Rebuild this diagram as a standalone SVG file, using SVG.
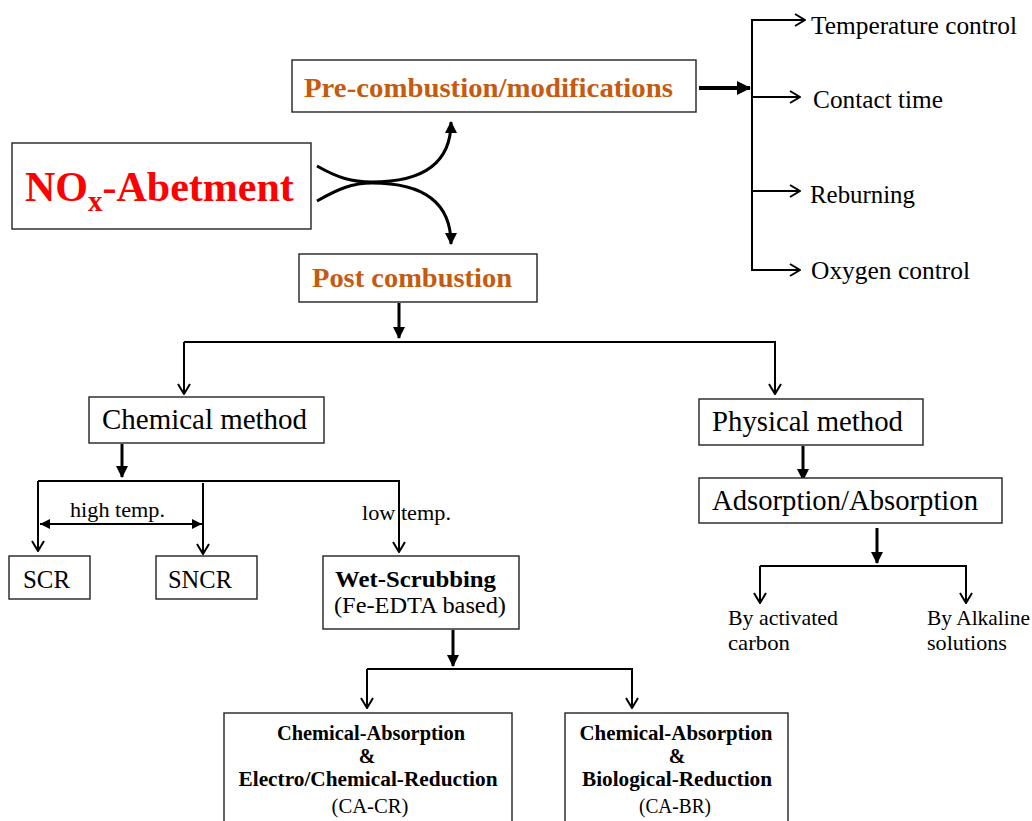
<svg xmlns="http://www.w3.org/2000/svg" width="1032" height="821" viewBox="0 0 1032 821">
<style>
text{font-family:"Liberation Serif","Times New Roman",serif;fill:#000}
.box{fill:#fff;stroke:#222;stroke-width:1.4}
.ln{fill:none;stroke:#000;stroke-width:2}
.thk{fill:none;stroke:#000;stroke-width:3}
.or{fill:#C55A11;font-weight:bold;font-size:28px}
.b{font-weight:bold}
</style>
<defs>
<marker id="open" viewBox="0 0 12 14" markerUnits="userSpaceOnUse" markerWidth="12" markerHeight="14" refX="11" refY="7" orient="auto"><path d="M1,1 L11,7 L1,13" fill="none" stroke="#000" stroke-width="2"/></marker>
<marker id="fill" viewBox="0 0 12 12" markerUnits="userSpaceOnUse" markerWidth="12" markerHeight="12" refX="11" refY="6" orient="auto"><path d="M0,0 L12,6 L0,12 z" fill="#000"/></marker>
<marker id="fillB" viewBox="0 0 14 14" markerUnits="userSpaceOnUse" markerWidth="14" markerHeight="14" refX="13" refY="7" orient="auto"><path d="M0,0 L14,7 L0,14 z" fill="#000"/></marker>
<marker id="small" viewBox="0 0 10 10" markerUnits="userSpaceOnUse" markerWidth="10" markerHeight="10" refX="10" refY="5" orient="auto-start-reverse"><path d="M0,0 L10,5 L0,10 z" fill="#000"/></marker>
</defs>

<g id="connectors">
<path class="thk" d="M317,166 C338,178 352,182 372,182 C420,182 451,165 451,122" marker-end="url(#fill)"/>
<path class="thk" d="M317,201 C338,189 352,183 372,183 C420,183 451,200 451,244" marker-end="url(#fill)"/>
<path d="M699,88 L750,88" fill="none" stroke="#000" stroke-width="4" marker-end="url(#fillB)"/>
<path class="ln" d="M752,20 L752,271"/>
<path class="ln" d="M751,20 L805,20" marker-end="url(#open)"/>
<path class="ln" d="M751,97 L800,97" marker-end="url(#open)"/>
<path class="ln" d="M751,191 L800,191" marker-end="url(#open)"/>
<path class="ln" d="M751,270 L800,270" marker-end="url(#open)"/>
<path class="thk" d="M399,303 L399,338" marker-end="url(#fill)"/>
<path class="ln" d="M184,342 L775,342 L775,394" marker-end="url(#open)"/>
<path class="ln" d="M184,342 L184,394" marker-end="url(#open)"/>
<path class="thk" d="M122,444 L122,477" marker-end="url(#fill)"/>
<path class="ln" d="M38,481 L399,481 L399,552" marker-end="url(#open)"/>
<path class="ln" d="M38,481 L38,551" marker-end="url(#open)"/>
<path class="ln" d="M203,483 L203,554" marker-end="url(#open)"/>
<path d="M40,524 L202,524" fill="none" stroke="#000" stroke-width="2" marker-start="url(#small)" marker-end="url(#small)"/>
<path class="thk" d="M453,630 L453,666" marker-end="url(#fill)"/>
<path class="ln" d="M367,669 L632,669 L632,708" marker-end="url(#open)"/>
<path class="ln" d="M367,669 L367,708" marker-end="url(#open)"/>
<path class="thk" d="M803,446 L803,480" marker-end="url(#fill)"/>
<path class="thk" d="M877,528 L877,563" marker-end="url(#fill)"/>
<path class="ln" d="M760,566 L966,566 L966,603" marker-end="url(#open)"/>
<path class="ln" d="M760,566 L760,603" marker-end="url(#open)"/>
</g>

<g id="nox">
<rect class="box" x="12" y="143" width="299" height="86"/>
<text x="25" y="201" font-size="42" font-weight="bold" fill="#FF0000" style="fill:#FF0000">NO<tspan font-size="29" dy="10">x</tspan><tspan dy="-10">-Abetment</tspan></text>
</g>

<g id="pre">
<rect class="box" x="292" y="60" width="404" height="52"/>
<text class="or" x="304" y="97" textLength="369" lengthAdjust="spacingAndGlyphs">Pre-combustion/modifications</text>
</g>

<g id="post">
<rect class="box" x="299" y="254" width="238" height="48"/>
<text class="or" x="312" y="287" textLength="200" lengthAdjust="spacingAndGlyphs">Post combustion</text>
</g>

<g id="items">
<text x="811" y="34" font-size="25" textLength="206" lengthAdjust="spacingAndGlyphs">Temperature  control</text>
<text x="813" y="108" font-size="25" textLength="130" lengthAdjust="spacingAndGlyphs">Contact time</text>
<text x="810" y="203" font-size="25" textLength="105" lengthAdjust="spacingAndGlyphs">Reburning</text>
<text x="811" y="279" font-size="25" textLength="159" lengthAdjust="spacingAndGlyphs">Oxygen  control</text>
</g>

<g id="chemical">
<rect class="box" x="89" y="397" width="235" height="46"/>
<text x="102" y="429" font-size="30" textLength="205" lengthAdjust="spacingAndGlyphs">Chemical method</text>
</g>

<g id="physical">
<rect class="box" x="699" y="399" width="224" height="46"/>
<text x="712" y="431" font-size="29" textLength="191" lengthAdjust="spacingAndGlyphs">Physical method</text>
</g>

<g id="adsorption">
<rect class="box" x="699" y="478" width="303" height="45"/>
<text x="712" y="510" font-size="29" textLength="266" lengthAdjust="spacingAndGlyphs">Adsorption/Absorption</text>
</g>

<g id="labels">
<text x="70" y="517" font-size="21" textLength="95" lengthAdjust="spacingAndGlyphs">high  temp.</text>
<text x="362" y="520" font-size="21" textLength="89" lengthAdjust="spacingAndGlyphs">low temp.</text>
</g>

<g id="scr">
<rect class="box" x="9" y="556" width="81" height="43"/>
<text x="23" y="588" font-size="25" textLength="47" lengthAdjust="spacingAndGlyphs">SCR</text>
</g>

<g id="sncr">
<rect class="box" x="156" y="556" width="101" height="43"/>
<text x="168" y="588" font-size="25" textLength="64" lengthAdjust="spacingAndGlyphs">SNCR</text>
</g>

<g id="wet">
<rect class="box" x="323" y="556" width="196" height="73"/>
<text x="335" y="587" font-size="23" class="b" textLength="161" lengthAdjust="spacingAndGlyphs">Wet-Scrubbing</text>
<text x="334" y="613" font-size="23" textLength="172" lengthAdjust="spacingAndGlyphs">(Fe-EDTA based)</text>
</g>

<g id="activated">
<text x="728" y="625" font-size="21" textLength="110" lengthAdjust="spacingAndGlyphs">By activated</text>
<text x="728" y="650" font-size="21" textLength="62" lengthAdjust="spacingAndGlyphs">carbon</text>
</g>

<g id="alkaline">
<text x="927" y="625" font-size="21" textLength="103" lengthAdjust="spacingAndGlyphs">By Alkaline</text>
<text x="927" y="650" font-size="21" textLength="80" lengthAdjust="spacingAndGlyphs">solutions</text>
</g>

<g id="cacr">
<rect class="box" x="224" y="713" width="288" height="112"/>
<text x="371" y="740" font-size="20" class="b" text-anchor="middle" textLength="188" lengthAdjust="spacingAndGlyphs">Chemical-Absorption</text>
<text x="367" y="763" font-size="20" class="b" text-anchor="middle">&amp;</text>
<text x="368" y="786" font-size="20" class="b" text-anchor="middle" textLength="259" lengthAdjust="spacingAndGlyphs">Electro/Chemical-Reduction</text>
<text x="370" y="813" font-size="20" text-anchor="middle" textLength="77" lengthAdjust="spacingAndGlyphs">(CA-CR)</text>
</g>

<g id="cabr">
<rect class="box" x="565" y="713" width="223" height="112"/>
<text x="676" y="740" font-size="20" class="b" text-anchor="middle" textLength="193" lengthAdjust="spacingAndGlyphs">Chemical-Absorption</text>
<text x="677" y="763" font-size="20" class="b" text-anchor="middle">&amp;</text>
<text x="677" y="786" font-size="20" class="b" text-anchor="middle" textLength="190" lengthAdjust="spacingAndGlyphs">Biological-Reduction</text>
<text x="675" y="813" font-size="20" text-anchor="middle" textLength="72" lengthAdjust="spacingAndGlyphs">(CA-BR)</text>
</g>
</svg>
